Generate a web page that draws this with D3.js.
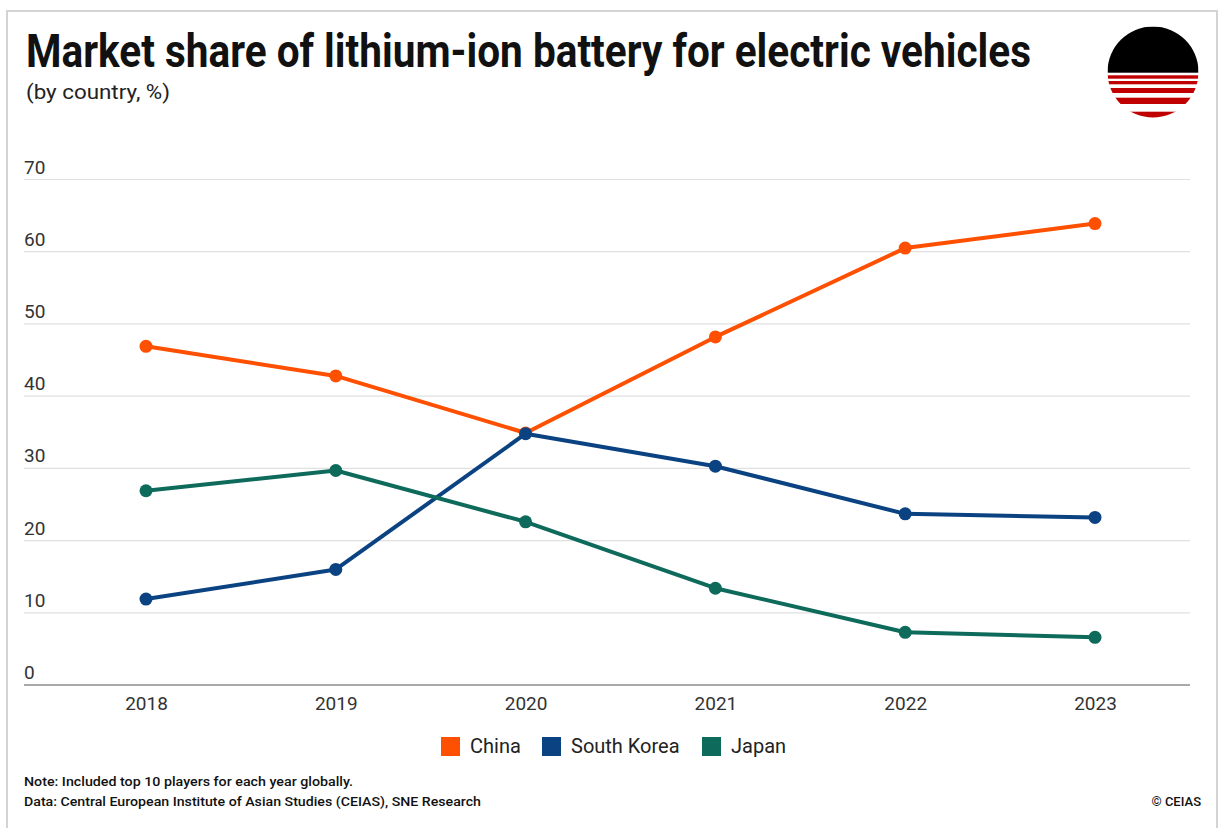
<!DOCTYPE html>
<html>
<head>
<meta charset="utf-8">
<script src="https://cdn.jsdelivr.net/npm/d3@7"></script>
<style>
  html, body { margin: 0; padding: 0; background: #fff; }
  svg { display: block; font-family: Roboto, "Noto Sans", sans-serif; }
</style>
</head>
<body>
<svg id="chart" width="1219" height="828"></svg>
<script>
// Market share of lithium-ion batteries for EVs, by country (%)
const years = ["2018", "2019", "2020", "2021", "2022", "2023"];
const china = [46.9, 42.8, 34.9, 48.2, 60.5, 63.9];
const southKorea = [11.9, 16.0, 34.8, 30.3, 23.7, 23.2];
const japan = [26.9, 29.7, 22.6, 13.4, 7.3, 6.6];
const seriesNames = ["China", "South Korea", "Japan"];
const seriesColors = ["#fe5000", "#0b4382", "#0e6a5b"];
const yTicks = [0, 10, 20, 30, 40, 50, 60, 70];

const series = [china, southKorea, japan].map((values, i) => ({
  name: seriesNames[i],
  color: seriesColors[i],
  points: values.map((v, j) => ({ year: years[j], value: v }))
}));

const svg = d3.select("#chart");

// outer frame
svg.append("rect")
  .attr("x", 7).attr("y", 11).attr("width", 1210).attr("height", 830)
  .attr("fill", "none").attr("stroke", "#d3d3d3").attr("stroke-width", 2);

// title + subtitle
function fitText(sel, w) {
  sel.attr("textLength", w).attr("lengthAdjust", "spacingAndGlyphs");
}
svg.append("text")
  .attr("x", 26).attr("y", 67)
  .attr("font-size", 46).attr("font-weight", 700).attr("fill", "#111")
  .text("Market share of lithium-ion battery for electric vehicles")
  .call(fitText, 1005);
svg.append("text")
  .attr("x", 26).attr("y", 99)
  .attr("font-size", 20).attr("fill", "#222")
  .text("(by country, %)")
  .call(fitText, 144);

// logo: black upper half, red stripes below
const logo = svg.append("g").attr("transform", "translate(1153,72)");
const R = 45.5;
logo.append("clipPath").attr("id", "logoClip")
  .append("circle").attr("r", R);
const lg = logo.append("g").attr("clip-path", "url(#logoClip)");
lg.append("rect").attr("x", -R).attr("y", -R).attr("width", 2 * R).attr("height", R + 0.7).attr("fill", "#000");
const stripes = [[3.3, 6.7], [9.0, 12.3], [16.0, 21.0], [25.7, 32.0], [39.7, 46]];
stripes.forEach(([a, b]) => {
  lg.append("rect").attr("x", -R).attr("y", a).attr("width", 2 * R).attr("height", b - a).attr("fill", "#c00000");
});

// scales
const x = d3.scalePoint().domain(years).range([146, 1095]);
const y = d3.scaleLinear().domain([0, 70]).range([685, 179.5]);
const gridLeft = 24, gridRight = 1190;

// gridlines and y labels
const grid = svg.append("g");
grid.selectAll("line").data(yTicks.filter(d => d > 0)).join("line")
  .attr("x1", gridLeft).attr("x2", gridRight)
  .attr("y1", d => y(d)).attr("y2", d => y(d))
  .attr("stroke", "#e0e0e0").attr("stroke-width", 1.2);
grid.selectAll("text").data(yTicks).join("text")
  .attr("x", gridLeft).attr("y", d => y(d) - 6)
  .attr("font-size", 19).attr("fill", "#333")
  .text(d => d);

// x axis
const xAxis = svg.append("g").attr("transform", `translate(0,${y(0)})`)
  .call(d3.axisBottom(x).tickSize(0).tickPadding(12));
xAxis.select(".domain").remove();
xAxis.selectAll("text").attr("font-size", 19).attr("fill", "#333")
  .attr("font-family", "Roboto, sans-serif");
svg.append("line")
  .attr("x1", gridLeft).attr("x2", gridRight)
  .attr("y1", y(0)).attr("y2", y(0))
  .attr("stroke", "#555").attr("stroke-width", 1);

// lines and dots
const line = d3.line().x(d => x(d.year)).y(d => y(d.value));
const g = svg.append("g");
series.forEach(s => {
  g.append("path").datum(s.points)
    .attr("d", line).attr("fill", "none")
    .attr("stroke", s.color).attr("stroke-width", 4)
    .attr("stroke-linejoin", "round");
});
series.forEach(s => {
  g.selectAll(null).data(s.points).join("circle")
    .attr("cx", d => x(d.year)).attr("cy", d => y(d.value))
    .attr("r", 6.5).attr("fill", s.color);
});

// legend
const legendX = [441, 542, 702];
const legend = svg.append("g");
series.forEach((s, i) => {
  legend.append("rect")
    .attr("x", legendX[i]).attr("y", 737).attr("width", 19).attr("height", 19)
    .attr("fill", s.color);
  legend.append("text")
    .attr("x", legendX[i] + 29).attr("y", 753)
    .attr("font-size", 20).attr("fill", "#222")
    .text(s.name);
});

// footer
svg.append("text")
  .attr("x", 24).attr("y", 786)
  .attr("font-size", 13).attr("font-weight", 500).attr("fill", "#111")
  .text("Note: Included top 10 players for each year globally.")
  .call(fitText, 329);
svg.append("text")
  .attr("x", 24).attr("y", 806)
  .attr("font-size", 13).attr("font-weight", 500).attr("fill", "#111")
  .text("Data: Central European Institute of Asian Studies (CEIAS), SNE Research")
  .call(fitText, 457);
svg.append("text")
  .attr("x", 1201).attr("y", 806).attr("text-anchor", "end")
  .attr("font-size", 13).attr("font-weight", 500).attr("fill", "#111")
  .text("© CEIAS");
</script>
</body>
</html>
